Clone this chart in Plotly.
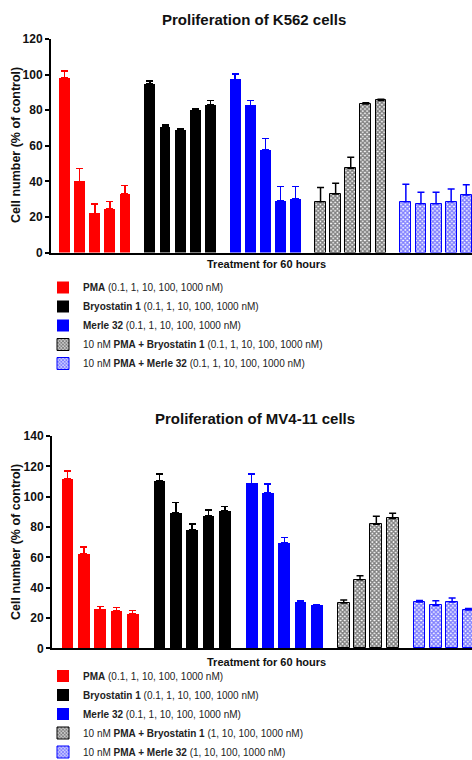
import plotly.graph_objects as go

# ---------------- data ----------------
doses_5 = ["0.1 nM", "1 nM", "10 nM", "100 nM", "1000 nM"]
doses_4 = ["1 nM", "10 nM", "100 nM", "1000 nM"]

# K562 (top)
k562_pma = [98, 40, 22, 24.6, 33]
k562_pma_err = [4, 7.3, 5.2, 4.2, 4.7]
k562_bryo = [94.7, 70.5, 68.8, 80, 82.9]
k562_bryo_err = [1.7, 1.3, 0.6, 1, 2.6]
k562_merle = [97.3, 82.7, 57.6, 29.1, 30.2]
k562_merle_err = [3, 2.8, 6.6, 7.9, 6.8]
k562_pma_bryo = [28.5, 32.9, 47.3, 83.5, 85.5]
k562_pma_bryo_err = [8, 6, 6.2, 0.7, 0.6]
k562_pma_merle = [28.5, 27.4, 27.4, 28.5, 32.3]
k562_pma_merle_err = [9.8, 6.4, 6.4, 7.2, 5.8]

# MV4-11 (bottom)
mv_pma = [111.5, 62.3, 25.7, 24.8, 22.8]
mv_pma_err = [5.5, 4.5, 2, 2, 2]
mv_bryo = [110.3, 89.5, 77.9, 87.1, 90.6]
mv_bryo_err = [4.7, 6.8, 4, 4, 3]
mv_merle = [108.8, 102.4, 69.5, 30.7, 28.3]
mv_merle_err = [6, 6, 3.5, 0.5, 0.5]
mv_pma_bryo = [29.8, 45.2, 81.8, 85.6]
mv_pma_bryo_err = [2, 2.6, 5.3, 3.4]
mv_pma_merle = [30.5, 28.3, 30.5, 25.2]
mv_pma_merle_err = [1, 3, 2.6, 1]

names_top = [
    "<b>PMA</b> (0.1, 1, 10, 100, 1000 nM)",
    "<b>Bryostatin 1</b> (0.1, 1, 10, 100, 1000 nM)",
    "<b>Merle 32</b> (0.1, 1, 10, 100, 1000 nM)",
    "10 nM <b>PMA + Bryostatin 1</b> (0.1, 1, 10, 100, 1000 nM)",
    "10 nM <b>PMA + Merle 32</b> (0.1, 1, 10, 100, 1000 nM)",
]
names_bot = [
    "<b>PMA</b> (0.1, 1, 10, 100, 1000 nM)",
    "<b>Bryostatin 1</b> (0.1, 1, 10, 100, 1000 nM)",
    "<b>Merle 32</b> (0.1, 1, 10, 100, 1000 nM)",
    "10 nM <b>PMA + Bryostatin 1</b> (1, 10, 100, 1000 nM)",
    "10 nM <b>PMA + Merle 32</b> (1, 10, 100, 1000 nM)",
]

RED, BLACK, BLUE = "#ff0000", "#000000", "#0000ff"
styles = [
    dict(color=RED, hatch=False),
    dict(color=BLACK, hatch=False),
    dict(color=BLUE, hatch=False),
    dict(color="#000000", hatch=True),
    dict(color=BLUE, hatch=True),
]

GAP = 0.65
BAR_W = 0.72
FONT = "Liberation Sans, Arial, sans-serif"

fig = go.Figure()


def add_groups(groups, names, xaxis, yaxis, legend):
    offset = 0.0
    for gi, (vals, errs, labels) in enumerate(groups):
        st = styles[gi]
        xs = [offset + i for i in range(len(vals))]
        offset += len(vals) + GAP
        marker = dict(color=st["color"], line=dict(width=0))
        if st["hatch"]:
            marker = dict(
                color="white",
                line=dict(width=1, color=st["color"]),
                pattern=dict(shape="x", fgcolor=st["color"], bgcolor="white",
                             size=3, solidity=0.7, fillmode="overlay"),
            )
        fig.add_trace(go.Bar(
            x=xs, y=vals, width=BAR_W, name=names[gi], marker=marker,
            hovertext=labels,
            error_y=dict(type="data", symmetric=False, array=errs,
                         arrayminus=[0] * len(errs), color=st["color"],
                         thickness=1.5, width=3.5),
            xaxis=xaxis, yaxis=yaxis, legend=legend,
        ))


add_groups([
    (k562_pma, k562_pma_err, doses_5),
    (k562_bryo, k562_bryo_err, doses_5),
    (k562_merle, k562_merle_err, doses_5),
    (k562_pma_bryo, k562_pma_bryo_err, doses_5),
    (k562_pma_merle, k562_pma_merle_err, doses_5),
], names_top, "x", "y", "legend")

add_groups([
    (mv_pma, mv_pma_err, doses_5),
    (mv_bryo, mv_bryo_err, doses_5),
    (mv_merle, mv_merle_err, doses_5),
    (mv_pma_bryo, mv_pma_bryo_err, doses_4),
    (mv_pma_merle, mv_pma_merle_err, doses_4),
], names_bot, "x2", "y2", "legend2")

W, H = 472, 760
tickfont = dict(family=FONT, size=12, color="#111", weight="bold")

xcommon = dict(showgrid=False, zeroline=False, showticklabels=False, ticks="",
               showline=True, linecolor="black", linewidth=2, automargin=False)
ycommon = dict(showgrid=False, zeroline=False, showline=True, linecolor="black",
               linewidth=2, ticks="outside", ticklen=4, tickwidth=2,
               tickcolor="black", tickfont=tickfont, dtick=20, automargin=False)

legend_common = dict(font=dict(family=FONT, size=10, color="#222"),
                     bgcolor="rgba(0,0,0,0)", borderwidth=0,
                     xanchor="left", yanchor="middle", itemwidth=30,
                     traceorder="normal")

fig.update_layout(
    width=W, height=H,
    margin=dict(l=0, r=0, t=0, b=0, autoexpand=False),
    paper_bgcolor="white", plot_bgcolor="white",
    barmode="overlay",
    bargap=0,
    xaxis=dict(xcommon, domain=[51 / W, 1], range=[-0.9, 26.98], anchor="y"),
    yaxis=dict(ycommon, domain=[1 - 252.5 / H, 1 - 39 / H], range=[0, 120],
               anchor="x"),
    xaxis2=dict(xcommon, domain=[52 / W, 1], range=[-0.95, 24.82], anchor="y2"),
    yaxis2=dict(ycommon, domain=[1 - 648.3 / H, 1 - 436 / H], range=[0, 140],
                anchor="x2"),
    legend=dict(legend_common, x=43 / W, y=1 - 325.5 / H),
    legend2=dict(legend_common, x=43 / W, y=1 - 714 / H),
    showlegend=True,
)

annots = [
    ("<b>Proliferation of K562 cells</b>", 254.5, 20, 15, 0),
    ("<b>Proliferation of MV4-11 cells</b>", 255, 418, 15, 0),
    ("<b>Treatment for 60 hours</b>", 266, 264, 11, 0),
    ("<b>Treatment for 60 hours</b>", 266.5, 661.5, 11, 0),
    ("<b>Cell number (% of control)</b>", 16, 145, 12.5, -90),
    ("<b>Cell number (% of control)</b>", 16, 542, 12.5, -90),
]
for text, px, py, size, ang in annots:
    fig.add_annotation(text=text, x=px / W, y=1 - py / H, xref="paper",
                       yref="paper", showarrow=False, xanchor="center",
                       yanchor="middle", textangle=ang,
                       font=dict(family=FONT, size=size, color="#111"))

fig.write_html(
    "out.html",
    config={"displayModeBar": False},
    post_script="document.body.style.margin='0';"
                "document.body.style.overflow='hidden';",
)
